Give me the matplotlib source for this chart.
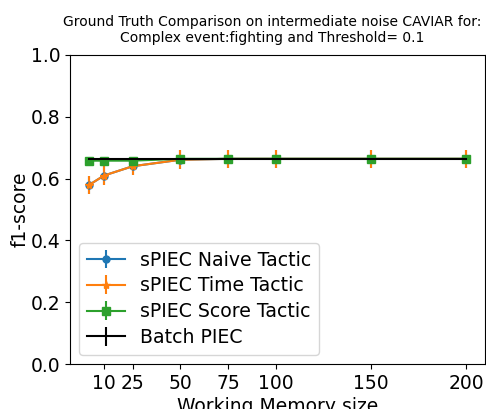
import matplotlib
matplotlib.use("Agg")
import matplotlib.pyplot as plt

memory_sizes = [2, 10, 25, 50, 75, 100, 150, 200]
xtick_values = [10, 25, 50, 75, 100, 150, 200]

naive_f1 = [0.579, 0.610, 0.640, 0.661, 0.664, 0.664, 0.664, 0.664]
naive_err = [0.028, 0.030, 0.028, 0.030, 0.030, 0.030, 0.030, 0.030]
time_f1 = [0.579, 0.610, 0.640, 0.661, 0.664, 0.664, 0.664, 0.664]
time_err = [0.028, 0.030, 0.028, 0.030, 0.030, 0.030, 0.030, 0.030]
score_f1 = [0.658, 0.658, 0.658, 0.664, 0.664, 0.664, 0.664, 0.664]
score_err = [0.008, 0.008, 0.008, 0.008, 0.008, 0.008, 0.008, 0.008]
batch_f1 = [0.664] * len(memory_sizes)
batch_err = [0.0] * len(memory_sizes)

fig = plt.figure(figsize=(4.86, 4.09), dpi=100)
ax = fig.add_axes([70 / 486, 45 / 409, 415 / 486, 309 / 409])

ax.errorbar(memory_sizes, naive_f1, yerr=naive_err, marker="o", markersize=5,
            color="#1f77b4", label="sPIEC Naive Tactic")
ax.errorbar(memory_sizes, time_f1, yerr=time_err, marker="*", markersize=6,
            color="#ff7f0e", label="sPIEC Time Tactic")
ax.errorbar(memory_sizes, score_f1, yerr=score_err, marker="s", markersize=6,
            color="#2ca02c", label="sPIEC Score Tactic")
ax.errorbar(memory_sizes, batch_f1, yerr=batch_err, color="black",
            label="Batch PIEC")

ax.set_ylim(0.0, 1.0)
ax.set_xticks(xtick_values)
ax.tick_params(labelsize=13.5)
ax.set_xlabel("Working Memory size", fontsize=13.5, labelpad=3)
ax.set_ylabel("f1-score", fontsize=13.5, labelpad=0.5)
ax.set_title("Ground Truth Comparison on intermediate noise CAVIAR for:\n"
             "Complex event:fighting and Threshold= 0.1", fontsize=10,
             x=0.487, pad=9.5)
ax.legend(loc="lower left", fontsize=13.6, labelspacing=0.36)

fig.savefig("out.png", dpi=100)
